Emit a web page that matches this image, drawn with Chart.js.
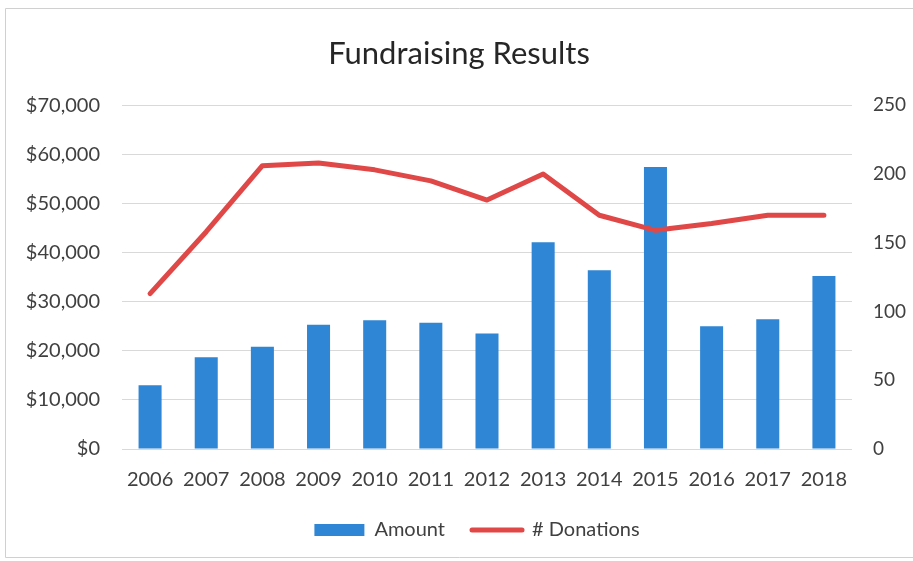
<!DOCTYPE html>
<html>
<head>
<meta charset="utf-8">
<script src="https://cdn.jsdelivr.net/npm/chart.js@4/dist/chart.umd.min.js"></script>
<style>
  html, body { margin: 0; padding: 0; background: #ffffff; }
  #wrap { width: 913px; height: 561px; position: relative; }
</style>
</head>
<body>
<div id="wrap"><canvas id="chart" width="913" height="561"></canvas></div>
<script>
const years = ['2006', '2007', '2008', '2009', '2010', '2011', '2012', '2013', '2014', '2015', '2016', '2017', '2018'];
const amounts = [13000, 18700, 20800, 25300, 26200, 25700, 23500, 42100, 36400, 57400, 25000, 26400, 35200];
const donations = [113, 158, 206, 208, 203, 195, 181, 200, 170, 159, 164, 170, 170];
const amountTicks = [0, 10000, 20000, 30000, 40000, 50000, 60000, 70000];
const donationTicks = [0, 50, 100, 150, 200, 250];

const FONT = 'Lato, "Open Sans", "DejaVu Sans", sans-serif';
const TEXT = '#404040';
const BLUE = '#2f86d4';
const RED = '#e04848';

// thin grey frame lines along the top, left and bottom of the chart
const framePlugin = {
  id: 'frame',
  beforeDraw(chart) {
    const ctx = chart.ctx;
    ctx.save();
    ctx.fillStyle = '#ffffff';
    ctx.fillRect(0, 0, chart.width, chart.height);
    ctx.strokeStyle = '#d0d0d0';
    ctx.lineWidth = 1;
    ctx.beginPath();
    ctx.moveTo(chart.width, 8.5);
    ctx.lineTo(5.5, 8.5);
    ctx.lineTo(5.5, chart.height - 3.5);
    ctx.lineTo(chart.width, chart.height - 3.5);
    ctx.stroke();
    ctx.restore();
  }
};

// nudge the legend row a little to the right of centre
const legendShift = {
  id: 'legendShift',
  afterLayout(chart) {
    const lg = chart.legend;
    if (lg) { lg.left += 18; lg.right += 18; }
  }
};

new Chart(document.getElementById('chart'), {
  data: {
    labels: years,
    datasets: [
      {
        type: 'bar',
        label: 'Amount',
        data: amounts,
        yAxisID: 'yAmount',
        backgroundColor: BLUE,
        borderWidth: 0,
        categoryPercentage: 1,
        barPercentage: 0.41,
        order: 2
      },
      {
        type: 'line',
        label: '# Donations',
        data: donations,
        yAxisID: 'yDonations',
        borderColor: RED,
        backgroundColor: RED,
        borderWidth: 5,
        borderCapStyle: 'round',
        borderJoinStyle: 'round',
        pointRadius: 0,
        tension: 0,
        order: 1
      }
    ]
  },
  options: {
    responsive: false,
    animation: false,
    layout: { padding: { left: 5, right: 0, top: 8, bottom: 11 } },
    plugins: {
      title: {
        display: true,
        text: 'Fundraising Results',
        color: '#262626',
        font: { family: FONT, size: 31, weight: 'normal' },
        padding: { top: 27, bottom: 33 }
      },
      legend: {
        position: 'bottom',
        labels: {
          color: TEXT,
          font: { family: FONT, size: 20 },
          usePointStyle: true,
          pointStyleWidth: 50,
          boxHeight: 12,
          padding: 27,
          generateLabels(chart) {
            return chart.data.datasets.map((ds, i) => ({
              text: ds.label,
              datasetIndex: i,
              fillStyle: ds.backgroundColor,
              strokeStyle: ds.type === 'line' ? ds.borderColor : ds.backgroundColor,
              lineWidth: ds.type === 'line' ? 5 : 0,
              lineCap: 'round',
              pointStyle: ds.type === 'line' ? 'line' : 'rect',
              fontColor: TEXT,
              hidden: false
            }));
          }
        }
      },
      tooltip: { enabled: false }
    },
    scales: {
      x: {
        grid: { display: false, drawTicks: false },
        border: { display: false },
        afterFit(scale) { scale.height = 44; },
        ticks: { color: TEXT, font: { family: FONT, size: 20 }, padding: 19, maxRotation: 0 }
      },
      yAmount: {
        position: 'left',
        min: 0,
        max: 70000,
        afterBuildTicks(scale) { scale.ticks = amountTicks.map(v => ({ value: v })); },
        afterFit(scale) { scale.width = 117; },
        grid: { color: '#d9d9d9', drawTicks: false },
        border: { display: false },
        ticks: {
          color: TEXT,
          font: { family: FONT, size: 20 },
          padding: 22,
          callback: v => '$' + v.toLocaleString('en-US')
        }
      },
      yDonations: {
        position: 'right',
        min: 0,
        max: 250,
        afterBuildTicks(scale) { scale.ticks = donationTicks.map(v => ({ value: v })); },
        afterFit(scale) { scale.width = 61; },
        grid: { display: false, drawTicks: false },
        border: { display: false },
        ticks: { color: TEXT, font: { family: FONT, size: 19 }, padding: 21 }
      }
    }
  },
  plugins: [framePlugin, legendShift]
});
</script>
</body>
</html>
